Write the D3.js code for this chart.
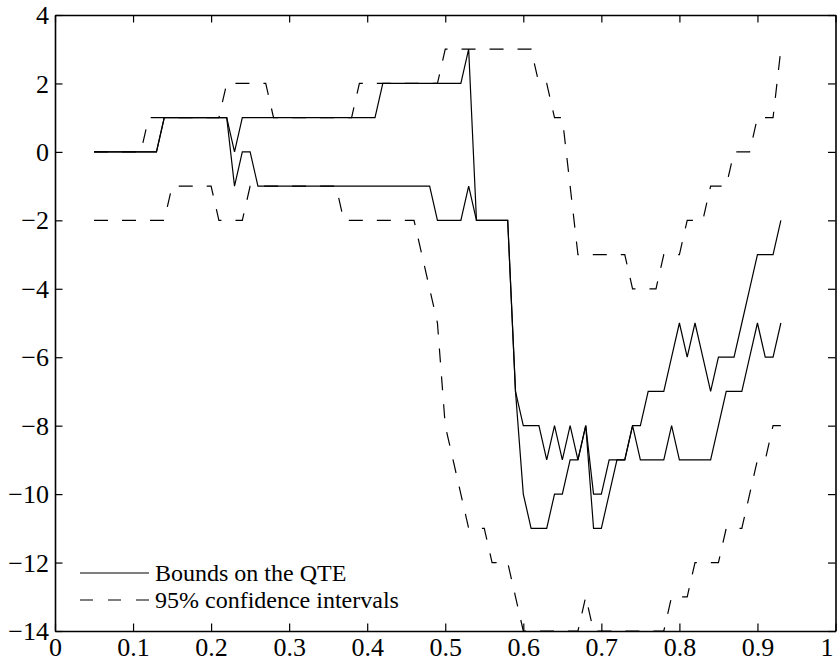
<!DOCTYPE html>
<html>
<head>
<meta charset="utf-8">
<script src="https://cdn.jsdelivr.net/npm/d3@7"></script>
<style>
  body { margin: 0; background: #fff; }
  svg { display: block; font-family: "Liberation Serif", "Times New Roman", serif; }
</style>
</head>
<body>
<div id="canvas"></div>
<script>
// quantiles (x) and the four series
const quantiles = [
  0.05, 0.06, 0.07, 0.08, 0.09, 0.10, 0.11, 0.12, 0.13, 0.14,
  0.15, 0.16, 0.17, 0.18, 0.19, 0.20, 0.21, 0.22, 0.23, 0.24,
  0.25, 0.26, 0.27, 0.28, 0.29, 0.30, 0.31, 0.32, 0.33, 0.34,
  0.35, 0.36, 0.37, 0.38, 0.39, 0.40, 0.41, 0.42, 0.43, 0.44,
  0.45, 0.46, 0.47, 0.48, 0.49, 0.50, 0.51, 0.52, 0.53, 0.54,
  0.55, 0.56, 0.57, 0.58, 0.59, 0.60, 0.61, 0.62, 0.63, 0.64,
  0.65, 0.66, 0.67, 0.68, 0.69, 0.70, 0.71, 0.72, 0.73, 0.74,
  0.75, 0.76, 0.77, 0.78, 0.79, 0.80, 0.81, 0.82, 0.83, 0.84,
  0.85, 0.86, 0.87, 0.88, 0.89, 0.90, 0.91, 0.92, 0.93
];

const qteUpper = [
  0, 0, 0, 0, 0, 0, 0, 0, 0, 1,
  1, 1, 1, 1, 1, 1, 1, 1, 0, 1,
  1, 1, 1, 1, 1, 1, 1, 1, 1, 1,
  1, 1, 1, 1, 1, 1, 1, 2, 2, 2,
  2, 2, 2, 2, 2, 2, 2, 2, 3, -2,
  -2, -2, -2, -2, -7, -8, -8, -8, -9, -8,
  -9, -8, -9, -8, -10, -10, -9, -9, -9, -8,
  -8, -7, -7, -7, -6, -5, -6, -5, -6, -7,
  -6, -6, -6, -5, -4, -3, -3, -3, -2
];

const qteLower = [
  0, 0, 0, 0, 0, 0, 0, 0, 0, 1,
  1, 1, 1, 1, 1, 1, 1, 1, -1, 0,
  0, -1, -1, -1, -1, -1, -1, -1, -1, -1,
  -1, -1, -1, -1, -1, -1, -1, -1, -1, -1,
  -1, -1, -1, -1, -2, -2, -2, -2, -1, -2,
  -2, -2, -2, -2, -7, -10, -11, -11, -11, -10,
  -10, -9, -9, -8, -11, -11, -10, -9, -9, -8,
  -9, -9, -9, -9, -8, -9, -9, -9, -9, -9,
  -8, -7, -7, -7, -6, -5, -6, -6, -5
];

const ciUpper = [
  0, 0, 0, 0, 0, 0, 0, 1, 1, 1,
  1, 1, 1, 1, 1, 1, 1, 2, 2, 2,
  2, 2, 2, 1, 1, 1, 1, 1, 1, 1,
  1, 1, 1, 1, 2, 2, 2, 2, 2, 2,
  2, 2, 2, 2, 2, 3, 3, 3, 3, 3,
  3, 3, 3, 3, 3, 3, 3, 2, 2, 1,
  1, -1, -3, -3, -3, -3, -3, -3, -3, -4,
  -4, -4, -4, -3, -3, -3, -2, -2, -2, -1,
  -1, -1, 0, 0, 0, 1, 1, 1, 3
];

const ciLower = [
  -2, -2, -2, -2, -2, -2, -2, -2, -2, -2,
  -1, -1, -1, -1, -1, -1, -2, -2, -2, -2,
  -1, -1, -1, -1, -1, -1, -1, -1, -1, -1,
  -1, -1, -2, -2, -2, -2, -2, -2, -2, -2,
  -2, -2, -3, -4, -5, -8, -9, -10, -11, -11,
  -11, -12, -12, -12, -13, -14, -14, -14, -14, -14,
  -14, -14, -14, -13, -14, -14, -14, -14, -14, -14,
  -14, -14, -14, -14, -13, -13, -13, -12, -12, -12,
  -12, -11, -11, -11, -10, -9, -9, -8, -8
];

const xTicks = [0, 0.1, 0.2, 0.3, 0.4, 0.5, 0.6, 0.7, 0.8, 0.9, 1];
const yTicks = [-14, -12, -10, -8, -6, -4, -2, 0, 2, 4];
const legendLabels = ['Bounds on the QTE', '95% confidence intervals'];

const width = 840;
const height = 661;
const margin = { top: 15, right: 4, bottom: 30, left: 55 };

const svg = d3.select('#canvas').append('svg')
    .attr('width', width)
    .attr('height', height)
    .attr('viewBox', [0, 0, width, height]);

svg.append('rect').attr('width', width).attr('height', height).attr('fill', '#fff');

const xScale = d3.scaleLinear()
    .domain([0, 1])
    .range([margin.left, width - margin.right - 0.5]);

const yScale = d3.scaleLinear()
    .domain([-14, 4])
    .range([height - margin.bottom, margin.top]);

svg.append('clipPath').attr('id', 'plot-clip')
  .append('rect')
    .attr('x', xScale(0)).attr('y', yScale(4))
    .attr('width', xScale(1) - xScale(0))
    .attr('height', yScale(-14) - yScale(4));

const fmt = d3.format('~g');

// data lines
const line = d3.line()
    .x((d, i) => xScale(quantiles[i]))
    .y(d => yScale(d));

const dataRegion = svg.append('g').attr('id', 'data').attr('clip-path', 'url(#plot-clip)');

dataRegion.selectAll('path.ci')
    .data([ciUpper, ciLower])
    .join('path')
    .attr('class', 'ci')
    .attr('d', line)
    .attr('fill', 'none')
    .attr('stroke', '#000')
    .attr('stroke-width', 1.2)
    .attr('stroke-dasharray', '14,14');

dataRegion.selectAll('path.qte')
    .data([qteUpper, qteLower])
    .join('path')
    .attr('class', 'qte')
    .attr('d', line)
    .attr('fill', 'none')
    .attr('stroke', '#000')
    .attr('stroke-width', 1.2)
    .attr('stroke-linejoin', 'miter');

// axes (box with inward ticks on all sides)
const tickLen = 7.5;

svg.append('g')
    .attr('id', 'x-axis')
    .attr('transform', `translate(0,${yScale(-14)})`)
    .call(d3.axisBottom(xScale).tickValues(xTicks).tickFormat(fmt)
        .tickSizeInner(-tickLen).tickSizeOuter(0).tickPadding(6.5));

svg.append('g')
    .attr('id', 'x-axis-top')
    .attr('transform', `translate(0,${yScale(4)})`)
    .call(d3.axisTop(xScale).tickValues(xTicks).tickFormat('')
        .tickSizeInner(-tickLen).tickSizeOuter(0));

svg.append('g')
    .attr('id', 'y-axis')
    .attr('transform', `translate(${xScale(0)},0)`)
    .call(d3.axisLeft(yScale).tickValues(yTicks).tickFormat(fmt)
        .tickSizeInner(-tickLen).tickSizeOuter(0).tickPadding(6));

svg.append('g')
    .attr('id', 'y-axis-right')
    .attr('transform', `translate(${xScale(1)},0)`)
    .call(d3.axisRight(yScale).tickValues(yTicks).tickFormat('')
        .tickSizeInner(-tickLen).tickSizeOuter(0));

svg.selectAll('.domain').attr('stroke', '#000').attr('stroke-width', 1.6);
svg.selectAll('.tick line').attr('stroke', '#000').attr('stroke-width', 1.2);
svg.selectAll('.tick text')
    .attr('fill', '#000')
    .style('font-family', '"Liberation Serif", "Times New Roman", serif')
    .style('font-size', '26px');
svg.selectAll('#y-axis .tick text').attr('dy', '0.33em');
// keep the last x label inside the page
svg.selectAll('#x-axis .tick text').filter(d => d === 1).attr('x', -9);

// legend (no box)
const legend = svg.append('g').attr('id', 'legend');
const legendRows = [
  { label: legendLabels[0], dash: null, y: 573 },
  { label: legendLabels[1], dash: '13,15', y: 600 }
];

legend.selectAll('line')
    .data(legendRows)
    .join('line')
    .attr('x1', 80).attr('x2', 149)
    .attr('y1', d => d.y).attr('y2', d => d.y)
    .attr('stroke', '#000')
    .attr('stroke-width', 1.2)
    .attr('stroke-dasharray', d => d.dash);

legend.selectAll('text')
    .data(legendRows)
    .join('text')
    .attr('x', 155)
    .attr('y', d => d.y + 8)
    .attr('font-size', 24)
    .attr('fill', '#000')
    .text(d => d.label);
</script>
</body>
</html>
